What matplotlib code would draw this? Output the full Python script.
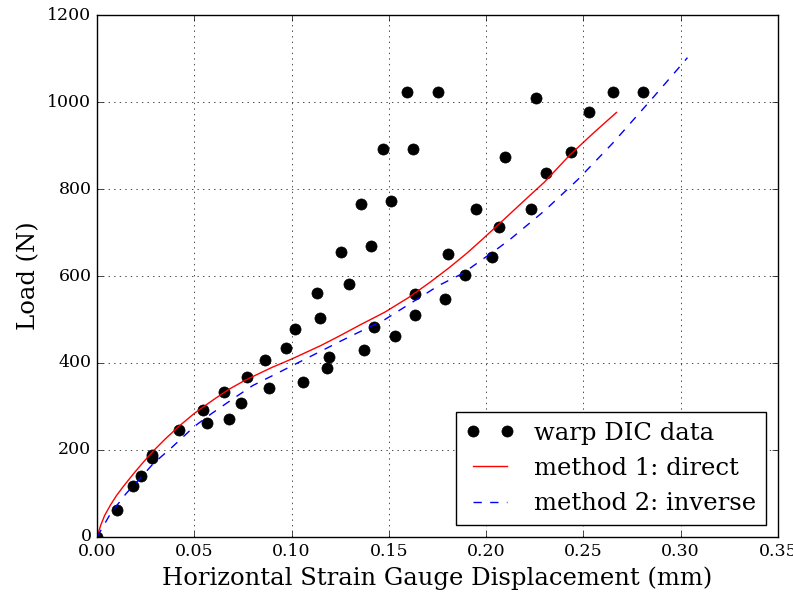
import matplotlib
matplotlib.use("Agg")
import matplotlib.pyplot as plt

# warp DIC data (displacement mm, load N)
dic_x = [0.0, 0.0105, 0.0184, 0.0225, 0.0285, 0.0285, 0.0424, 0.0547, 0.0566, 0.0652,
         0.0678, 0.0742, 0.0770, 0.0862, 0.0883, 0.0970, 0.1017, 0.1058, 0.1133, 0.1147,
         0.1180, 0.1190, 0.1255, 0.1293, 0.1358, 0.1372, 0.1406, 0.1426, 0.1471, 0.1513,
         0.1532, 0.1596, 0.1625, 0.1632, 0.1632, 0.1755, 0.1788, 0.1802, 0.1889, 0.1947,
         0.2031, 0.2064, 0.2098, 0.2230, 0.2257, 0.2309, 0.2437, 0.2527, 0.2651, 0.2806]
dic_y = [0, 61, 118, 141, 189, 181, 246, 291, 261, 333,
         271, 307, 368, 406, 342, 435, 479, 356, 562, 503,
         389, 414, 656, 581, 766, 430, 670, 483, 893, 773,
         463, 1024, 891, 559, 510, 1024, 546, 650, 603, 754,
         643, 712, 874, 755, 1010, 836, 884, 976, 1024, 1024]

# method 1: direct
m1_x = [0.0, 0.002, 0.004, 0.007, 0.010, 0.013, 0.016, 0.020, 0.025, 0.029,
        0.035, 0.042, 0.050, 0.060, 0.068, 0.076, 0.090, 0.100, 0.115, 0.125,
        0.135, 0.148, 0.160, 0.171, 0.181, 0.190, 0.198, 0.207, 0.220, 0.230,
        0.243, 0.255, 0.267]
m1_y = [0, 28, 50, 74, 95, 113, 130, 152, 178, 198,
        225, 254, 284, 316, 340, 360, 390, 409, 440, 463,
        487, 517, 550, 585, 619, 652, 684, 721, 775, 816,
        878, 928, 976]

# method 2: inverse
m2_x = [0.0, 0.007, 0.015, 0.023, 0.029, 0.038, 0.050, 0.059, 0.070, 0.080,
        0.100, 0.126, 0.148, 0.165, 0.176, 0.188, 0.205, 0.212, 0.230, 0.247,
        0.265, 0.284, 0.297, 0.3035]
m2_y = [0, 54, 100, 139, 169, 204, 254, 284, 318, 348,
        393, 452, 500, 548, 579, 606, 660, 683, 750, 821,
        905, 1001, 1068, 1102]

plt.style.use("classic")
plt.rcParams["font.family"] = "DejaVu Serif"

fig = plt.figure(figsize=(7.93, 5.94), dpi=100)
ax = fig.add_axes([0.1223, 0.096, 0.8587, 0.8787])

ax.plot(dic_x, dic_y, "ko", ms=8, label="warp DIC data")
ax.plot(m1_x, m1_y, "r-", lw=1, label="method 1: direct")
ax.plot(m2_x, m2_y, "b--", lw=1, label="method 2: inverse")

ax.set_xlim(0, 0.35)
ax.set_ylim(0, 1200)
ax.set_xlabel("Horizontal Strain Gauge Displacement (mm)", fontsize=17.5)
ax.set_ylabel("Load (N)", fontsize=17.5)
ax.tick_params(labelsize=12.5)
ax.grid(True)
ax.legend(loc="lower right", fontsize=17.5, numpoints=2)

fig.savefig("out.png", dpi=100)
